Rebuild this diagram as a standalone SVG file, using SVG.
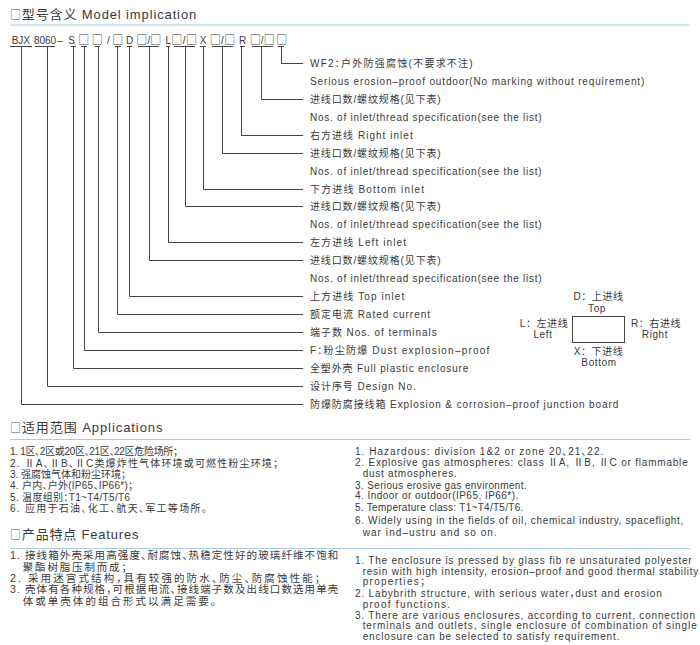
<svg xmlns="http://www.w3.org/2000/svg" width="700" height="645" viewBox="0 0 700 645">
<style>
text{font-family:'Liberation Sans','Noto Sans CJK SC',sans-serif;fill:#3a3a3a;font-feature-settings:"halt" 1}
.h{font-size:13px;letter-spacing:0.8px}
.hs{font-family:'Noto Sans CJK SC',sans-serif;font-size:11px;fill:#555}
.c{font-size:10px;text-anchor:middle}
.sq{font-family:'Noto Sans CJK SC',sans-serif;font-size:11px}
.l{font-size:10px}
.b{font-size:10px;text-anchor:middle;letter-spacing:0.6px;font-feature-settings:normal}
.a{font-size:10px}
.f{font-size:10.5px}
.rule{stroke:#a9cde2;stroke-width:1.2;fill:none}
.con path{stroke:#444;stroke-width:1;fill:none}
</style>
<rect width="700" height="645" fill="#fff"/>
<g id="heading-model">
<text class="h" x="10" y="19" textLength="187" lengthAdjust="spacing"><tspan class="hs">□</tspan>型号含义 Model implication</text>
<line class="rule" x1="10" y1="25" x2="690" y2="25"/>
</g>
<g id="model-code">
<text class="c" y="43.5"><tspan x="20.8">BJX</tspan><tspan x="45">8060</tspan><tspan x="60">–</tspan><tspan x="71.7">S</tspan><tspan class="sq" x="83.7" y="44.2">□</tspan><tspan class="sq" x="97.3">□</tspan><tspan x="108.3" y="43.5">/</tspan><tspan class="sq" x="117.7" y="44.2">□</tspan><tspan x="129.5" y="43.5">D</tspan><tspan class="sq" x="141.8" y="44.2">□</tspan><tspan x="148.8" y="43.5">/</tspan><tspan class="sq" x="155.8" y="44.2">□</tspan><tspan x="168.3" y="43.5">L</tspan><tspan class="sq" x="176.8" y="44.2">□</tspan><tspan x="184.2" y="43.5">/</tspan><tspan class="sq" x="191.5" y="44.2">□</tspan><tspan x="203.2" y="43.5">X</tspan><tspan class="sq" x="215.2" y="44.2">□</tspan><tspan x="222.5" y="43.5">/</tspan><tspan class="sq" x="229.8" y="44.2">□</tspan><tspan x="242.5" y="43.5">R</tspan><tspan class="sq" x="255.2" y="44.2">□</tspan><tspan x="262.2" y="43.5">/</tspan><tspan class="sq" x="269.2" y="44.2">□</tspan><tspan class="sq" x="281.7">□</tspan></text>
</g>
<g id="connectors" class="con">
<path d="M10 46.5H32M35 46.5H55M71 46.5H76M81 46.5H87M95 46.5H100M115 46.5H121M127 46.5H132M138 46.5H159M166 46.5H170M174 46.5H195M200 46.5H206M212 46.5H233M240 46.5H245M252 46.5H273M278 46.5H284"/>
<path d="M281.5 46.5V63.5H303"/>
<path d="M261.5 46.5V99.5H303"/>
<path d="M241.5 46.5V135.5H303"/>
<path d="M222.5 46.5V153.5H303"/>
<path d="M203.5 46.5V189.5H303"/>
<path d="M185.5 46.5V206.5H303"/>
<path d="M168.5 46.5V242.5H303"/>
<path d="M149.5 46.5V260.5H303"/>
<path d="M129.5 46.5V296.5H303"/>
<path d="M117.5 46.5V314.5H303"/>
<path d="M98.5 46.5V332.5H303"/>
<path d="M84.5 46.5V350.5H303"/>
<path d="M73.5 46.5V368.5H303"/>
<path d="M47.5 46.5V386.5H303"/>
<path d="M21.5 46.5V404.5H303"/>
</g>
<g id="labels">
<text class="l" x="310" y="66.5" textLength="162.7" lengthAdjust="spacing">WF2：户外防强腐蚀(不要求不注)</text>
<text class="l" x="310" y="84.5" textLength="334.3" lengthAdjust="spacing">Serious erosion–proof outdoor(No marking without requirement)</text>
<text class="l" x="310" y="102.5" textLength="130.7" lengthAdjust="spacing">进线口数/螺纹规格(见下表)</text>
<text class="l" x="310" y="120.5" textLength="231.7" lengthAdjust="spacing">Nos. of inlet/thread specification(see the list)</text>
<text class="l" x="310" y="138.5" textLength="102.7" lengthAdjust="spacing">右方进线  Right inlet</text>
<text class="l" x="310" y="156.5" textLength="130.7" lengthAdjust="spacing">进线口数/螺纹规格(见下表)</text>
<text class="l" x="310" y="174.5" textLength="231.7" lengthAdjust="spacing">Nos. of inlet/thread specification(see the list)</text>
<text class="l" x="310" y="192.5" textLength="114" lengthAdjust="spacing">下方进线  Bottom inlet</text>
<text class="l" x="310" y="210" textLength="130.7" lengthAdjust="spacing">进线口数/螺纹规格(见下表)</text>
<text class="l" x="310" y="228" textLength="231.7" lengthAdjust="spacing">Nos. of inlet/thread specification(see the list)</text>
<text class="l" x="310" y="246" textLength="96" lengthAdjust="spacing">左方进线  Left inlet</text>
<text class="l" x="310" y="264" textLength="130.7" lengthAdjust="spacing">进线口数/螺纹规格(见下表)</text>
<text class="l" x="310" y="282" textLength="231.7" lengthAdjust="spacing">Nos. of inlet/thread specification(see the list)</text>
<text class="l" x="310" y="300" textLength="94.3" lengthAdjust="spacing">上方进线  Top inlet</text>
<text class="l" x="310" y="318" textLength="120" lengthAdjust="spacing">额定电流  Rated current</text>
<text class="l" x="310" y="336" textLength="126.7" lengthAdjust="spacing">端子数  Nos. of terminals</text>
<text class="l" x="310" y="354" textLength="179.3" lengthAdjust="spacing">F：粉尘防爆  Dust explosion–proof</text>
<text class="l" x="310" y="372" textLength="158.3" lengthAdjust="spacing">全塑外壳  Full plastic enclosure</text>
<text class="l" x="310" y="390" textLength="105.7" lengthAdjust="spacing">设计序号  Design No.</text>
<text class="l" x="310" y="408" textLength="308.3" lengthAdjust="spacing">防爆防腐接线箱  Explosion &amp; corrosion–proof junction board</text>
</g>
<g id="inlet-legend">
<rect x="572.5" y="316.5" width="52" height="26" fill="none" stroke="#444" stroke-width="1"/>
<text class="b" x="598.5" y="300">D：上进线</text>
<text class="b" x="597" y="311.5">Top</text>
<text class="b" x="544" y="327">L：左进线</text>
<text class="b" x="543" y="338">Left</text>
<text class="b" x="656" y="327">R：右进线</text>
<text class="b" x="655" y="338">Right</text>
<text class="b" x="598.5" y="354.5">X：下进线</text>
<text class="b" x="599" y="365.5">Bottom</text>
</g>
<g id="heading-applications">
<text class="h" x="10" y="431.5" textLength="153.3" lengthAdjust="spacing"><tspan class="hs">□</tspan>适用范围 Applications</text>
<line class="rule" x1="10" y1="439.5" x2="690" y2="439.5"/>
</g>
<g id="applications-cn">
<text class="a" x="10" y="455.2" textLength="168" lengthAdjust="spacing">1. 1区、2区或20区、21区、22区危险场所；</text>
<text class="a" x="10" y="466.8" textLength="268" lengthAdjust="spacing">2. ⅡA、ⅡB、ⅡC类爆炸性气体环境或可燃性粉尘环境；</text>
<text class="a" x="10" y="477.8" textLength="116" lengthAdjust="spacing">3. 强腐蚀气体和粉尘环境；</text>
<text class="a" x="10" y="488.8" textLength="123" lengthAdjust="spacing">4. 户内、户外(IP65、IP66*)；</text>
<text class="a" x="10" y="500.8" textLength="120" lengthAdjust="spacing">5. 温度组别：T1~T4/T5/T6</text>
<text class="a" x="10" y="512.2" textLength="196.7" lengthAdjust="spacing">6. 应用于石油、化工、航天、军工等场所。</text>
</g>
<g id="applications-en">
<text class="a" x="355" y="455.2" textLength="248.3" lengthAdjust="spacing">1. Hazardous: division 1&amp;2 or zone 20、21、22.</text>
<text class="a" x="355" y="466.2" textLength="332.7" lengthAdjust="spacing">2. Explosive gas atmospheres: class ⅡA, ⅡB, ⅡC or flammable</text>
<text class="a" x="362.7" y="476.8" textLength="94" lengthAdjust="spacing">dust atmospheres.</text>
<text class="a" x="355" y="488.5" textLength="171.7" lengthAdjust="spacing">3. Serious erosive gas environment.</text>
<text class="a" x="355" y="499.2" textLength="163.3" lengthAdjust="spacing">4. Indoor or outdoor(IP65, IP66*).</text>
<text class="a" x="355" y="510.8" textLength="168.3" lengthAdjust="spacing">5. Temperature class: T1~T4/T5/T6.</text>
<text class="a" x="355" y="523.5" textLength="328.3" lengthAdjust="spacing">6. Widely using in the fields of oil, chemical industry, spaceflight,</text>
<text class="a" x="362.7" y="535.8" textLength="134" lengthAdjust="spacing">war ind–ustru and so on.</text>
</g>
<g id="heading-features">
<text class="h" x="10" y="538.5" textLength="129.3" lengthAdjust="spacing"><tspan class="hs">□</tspan>产品特点 Features</text>
<line class="rule" x1="10" y1="548.5" x2="690" y2="548.5"/>
</g>
<g id="features-cn">
<text class="f" x="10" y="559" textLength="328.3" lengthAdjust="spacing">1. 接线箱外壳采用高强度、耐腐蚀、热稳定性好的玻璃纤维不饱和</text>
<text class="f" x="22.7" y="570.5" textLength="104" lengthAdjust="spacing">聚酯树脂压制而成；</text>
<text class="f" x="10" y="581.5" textLength="310" lengthAdjust="spacing">2. 采用迷宫式结构，具有较强的防水、防尘、防腐蚀性能；</text>
<text class="f" x="10" y="593" textLength="328.3" lengthAdjust="spacing">3. 壳体有各种规格，可根据电流、接线端子数及出线口数选用单壳</text>
<text class="f" x="22.7" y="604.5" textLength="193.3" lengthAdjust="spacing">体或单壳体的组合形式以满足需要。</text>
</g>
<g id="features-en">
<text class="a" x="355" y="564" textLength="336.7" lengthAdjust="spacing">1. The enclosure is pressed by glass fib re unsaturated polyester</text>
<text class="a" x="362.7" y="574.8" textLength="335.6" lengthAdjust="spacing">resin with high intensity, erosion–proof and good thermal stability</text>
<text class="a" x="362.7" y="585.3" textLength="62.3" lengthAdjust="spacing">properties；</text>
<text class="a" x="355" y="596.9" textLength="306.7" lengthAdjust="spacing">2. Labybrith structure, with serious water，dust and erosion</text>
<text class="a" x="362.7" y="607.6" textLength="87.3" lengthAdjust="spacing">proof functions.</text>
<text class="a" x="355" y="618.6" textLength="340" lengthAdjust="spacing">3. There are various enclosures, according to current, connection</text>
<text class="a" x="362.7" y="629.3" textLength="334" lengthAdjust="spacing">terminals and outlets, single enclosure of combination of single</text>
<text class="a" x="362.7" y="640" textLength="256.6" lengthAdjust="spacing">enclosure can be selected to satisfy requirement.</text>
</g>
</svg>
